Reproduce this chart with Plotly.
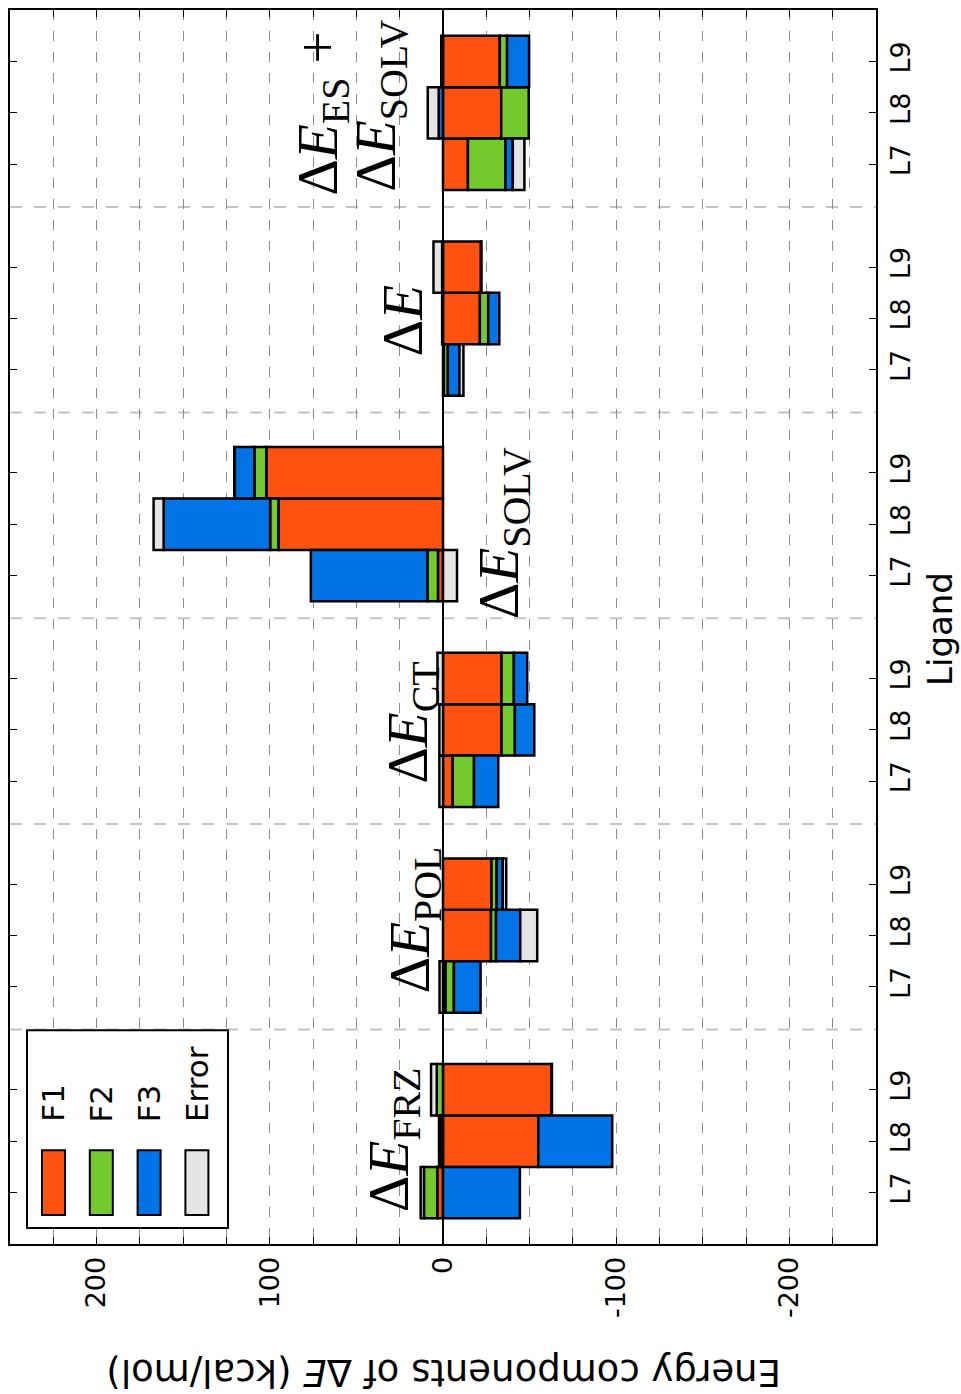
import plotly.graph_objects as go

# Energy decomposition terms (kcal/mol) for three ligands, grouped by component
groups = ["FRZ", "POL", "CT", "SOLV", "dE", "ES+SOLV"]
ligands = ["L7", "L8", "L9"]

F1 = [3.3, -55.0, -62.6,
      -1.5, -27.7, -28.0,
      -5.6, -33.8, -33.8,
      2.9, 95.0, 102.0,
      -0.5, -21.3, -21.9,
      -14.4, -33.6, -32.8]
F2 = [7.7, 1.5, 3.6,
      -4.8, -2.9, -3.0,
      -12.3, -7.7, -7.1,
      6.1, 4.8, 6.9,
      -2.3, -4.8, 0.5,
      -21.7, -15.9, -4.2]
F3 = [-44.4, -42.7, -0.3,
      -15.4, -14.0, -3.5,
      -14.0, -11.2, -7.7,
      67.3, 61.5, 11.3,
      -6.7, -6.4, -0.3,
      -4.2, 2.5, -12.7]
Error = [1.9, 0.8, 3.3,
         2.0, -9.8, -2.0,
         2.1, 2.1, 3.2,
         -8.1, 5.8, 0.3,
         -2.3, 0.5, 5.0,
         -6.7, 6.3, 1.0]

series = [("F1", F1, "#FF5210"), ("F2", F2, "#74C92C"),
          ("F3", F3, "#0073E6"), ("Error", Error, "#E5E5E5")]

group_labels = [
    "Δ<i>E</i><sub>FRZ</sub>",
    "Δ<i>E</i><sub>POL</sub>",
    "Δ<i>E</i><sub>CT</sub>",
    "Δ<i>E</i><sub>SOLV</sub>",
    "Δ<i>E</i>",
]
# last label is set on two lines
last_label = ["Δ<i>E</i><sub>ES</sub> +", "Δ<i>E</i><sub>SOLV</sub>"]

# slot positions: three bars per group, one empty slot between groups
pos = [4 * g + k for g in range(len(groups)) for k in range(len(ligands))]
tick_text = [lig for _ in groups for lig in ligands]

fig = go.Figure()
for name, vals, col in series:
    fig.add_trace(go.Bar(
        x=vals, y=pos, orientation="h", name=name, width=1.0,
        marker=dict(color=col, line=dict(color="black", width=2.5)),
        showlegend=False,
    ))

W, H = 961, 1394
L, R, T, B = 10, 85, 8, 150
pw, ph = W - L - R, H - T - B


def px(x):
    return (x - L) / pw


def py(y):
    return (H - B - y) / ph


shapes = []
# dashed separators between groups
for g in range(1, len(groups)):
    yy = 4 * g - 0.83
    shapes.append(dict(type="line", xref="paper", yref="y", x0=0, x1=1, y0=yy, y1=yy,
                       line=dict(color="#c4c4c4", width=2, dash="12px,12px"), layer="below"))

# legend box
shapes.append(dict(type="rect", xref="paper", yref="paper",
                   x0=px(27), x1=px(228), y0=py(1228), y1=py(1030),
                   line=dict(color="black", width=2), fillcolor="white", layer="above"))
annotations = []
for i, (name, vals, col) in enumerate(series):
    x0 = 42 + i * 47.8
    shapes.append(dict(type="rect", xref="paper", yref="paper",
                       x0=px(x0), x1=px(x0 + 23), y0=py(1215), y1=py(1150),
                       line=dict(color="black", width=2), fillcolor=col, layer="above"))
    annotations.append(dict(x=px(x0 + 11.5), y=py(1124), xref="paper", yref="paper",
                            text=name, textangle=-90, showarrow=False,
                            xanchor="center", yanchor="bottom",
                            font=dict(family="DejaVu Sans", size=31, color="black")))

# component labels
label_font = dict(family="Liberation Serif", size=57, color="black")
label_pos = [(393, 1140), (414, 920), (412, 722), (503, 532), (402, 320)]
for txt, (lx, ly) in zip(group_labels, label_pos):
    annotations.append(dict(x=px(lx), y=py(ly), xref="paper", yref="paper",
                            text=txt, textangle=-90, showarrow=False,
                            xanchor="center", yanchor="middle", font=label_font))
for txt, (lx, ly) in zip(last_label, [(322, 196), (380, 192)]):
    annotations.append(dict(x=px(lx), y=py(ly), xref="paper", yref="paper",
                            text=txt, textangle=-90, showarrow=False,
                            xanchor="center", yanchor="bottom", font=label_font))

# axis titles
annotations.append(dict(x=px(940), y=py(628), xref="paper", yref="paper",
                        text="Ligand", textangle=-90, showarrow=False,
                        xanchor="center", yanchor="middle",
                        font=dict(family="DejaVu Sans", size=34, color="black")))
annotations.append(dict(x=px(444), y=py(1372), xref="paper", yref="paper",
                        text="Energy components of Δ<i>E</i> (kcal/mol)", textangle=180,
                        showarrow=False, xanchor="center", yanchor="middle",
                        font=dict(family="DejaVu Sans", size=37, color="black")))

fig.update_layout(
    width=W, height=H,
    margin=dict(l=L, r=R, t=T, b=B),
    barmode="relative",
    plot_bgcolor="white", paper_bgcolor="white",
    shapes=shapes, annotations=annotations,
    showlegend=False,
)
fig.update_xaxes(
    range=[250, -250],
    tickvals=[200, 100, 0, -100, -200],
    ticktext=["200", "100", "0", "-100", "-200"],
    tickangle=-90, ticks="inside", ticklen=7, tickwidth=1, tickcolor="black",
    tickfont=dict(family="DejaVu Sans", size=27, color="black"),
    showline=True, linecolor="black", linewidth=2, mirror="ticks",
    showgrid=True, gridcolor="#8c8c8c", gridwidth=1.4, griddash="10px,11px",
    zeroline=True, zerolinecolor="black", zerolinewidth=1.5,
    minor=dict(dtick=25, tick0=0, ticks="inside", ticklen=7, tickcolor="black",
               showgrid=True, gridcolor="#8c8c8c", gridwidth=1.4, griddash="10px,11px"),
)
fig.update_yaxes(
    range=[-1, 23], side="right",
    tickvals=pos, ticktext=tick_text,
    tickangle=-90, ticks="inside", ticklen=7, tickcolor="black",
    tickfont=dict(family="DejaVu Sans", size=27, color="black"),
    showline=True, linecolor="black", linewidth=2, mirror="ticks",
    showgrid=False, zeroline=False,
)

fig.write_html("out.html")
